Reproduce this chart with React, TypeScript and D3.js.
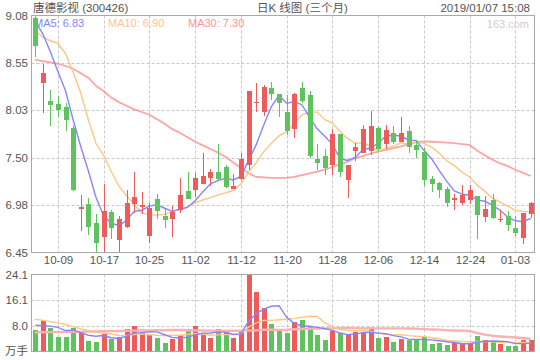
import React from "react";
import * as d3 from "d3";

const dates = ["09-27","09-28","10-08","10-09","10-10","10-11","10-12","10-15","10-16","10-17","10-18","10-19","10-22","10-23","10-24","10-25","10-26","10-29","10-30","10-31","11-01","11-02","11-05","11-06","11-07","11-08","11-09","11-12","11-13","11-14","11-15","11-16","11-19","11-20","11-21","11-22","11-23","11-26","11-27","11-28","11-29","11-30","12-03","12-04","12-05","12-06","12-07","12-10","12-11","12-12","12-13","12-14","12-17","12-18","12-19","12-20","12-21","12-24","12-25","12-26","12-27","12-28","01-02","01-03","01-04","01-07"];

const openP = [9.05,8.33,8.13,8.10,8.06,7.83,6.93,6.99,6.78,6.62,6.905,6.59,6.73,6.99,6.96,6.64,7.05,6.86,6.82,6.92,7.13,7.145,7.215,7.28,7.345,7.40,7.16,7.27,7.425,8.105,8.01,8.275,8.21,8.01,7.825,8.275,8.20,7.49,7.52,7.425,7.765,7.26,7.58,7.56,7.575,7.83,7.65,7.78,7.68,7.80,7.645,7.57,7.27,7.22,7.16,7.03,7.00,7.03,7.08,6.845,7.035,6.81,6.86,6.72,6.615,6.88];
const closeP = [8.745,8.44,8.09,8.03,7.92,7.14,6.96,6.73,6.56,6.91,6.72,6.82,7.00,7.07,6.975,6.95,6.91,6.81,6.90,7.09,7.05,7.28,7.30,7.345,7.27,7.18,7.19,7.49,8.24,8.125,8.29,8.21,8.105,7.80,8.21,8.13,7.525,7.45,7.39,7.765,7.34,7.42,7.62,7.82,7.855,7.60,7.81,7.675,7.78,7.62,7.59,7.26,7.21,7.14,7.00,7.06,7.09,7.145,6.87,6.935,6.83,6.825,6.76,6.67,6.89,7.00];
const highP = [9.08,8.54,8.25,8.19,8.11,7.85,7.09,7.06,6.88,7.21,6.92,6.86,7.14,7.345,7.12,7.00,7.10,6.935,6.97,7.28,7.345,7.33,7.56,7.375,7.655,7.425,7.32,7.555,8.24,8.33,8.305,8.345,8.21,8.20,8.22,8.345,8.24,7.655,7.60,7.82,7.77,7.42,7.67,7.87,8.025,7.86,7.87,7.86,7.955,7.85,7.70,7.615,7.305,7.23,7.18,7.10,7.20,7.20,7.08,7.08,7.10,6.92,6.915,6.86,6.89,7.015];
const lowP = [8.62,8.00,7.86,7.95,7.80,7.13,6.69,6.65,6.45,6.45,6.60,6.45,6.72,6.89,6.88,6.56,6.82,6.72,6.62,6.89,7.04,7.07,7.21,7.19,7.26,7.17,7.16,7.26,7.37,8.01,7.97,8.14,7.95,7.75,7.72,8.105,7.50,7.37,7.315,7.31,7.29,7.06,7.465,7.55,7.535,7.58,7.60,7.65,7.675,7.55,7.50,7.19,7.12,7.06,6.96,6.92,6.98,6.99,6.60,6.79,6.82,6.79,6.69,6.635,6.545,6.835];

const ma5 = [9.02,8.88,8.68,8.46,8.245,7.924,7.628,7.356,7.062,6.86,6.776,6.752,6.806,6.908,6.921,6.967,6.981,6.943,6.909,6.932,6.952,7.026,7.124,7.213,7.249,7.275,7.257,7.295,7.474,7.645,7.867,8.071,8.194,8.106,8.123,8.091,7.954,7.823,7.741,7.652,7.494,7.473,7.507,7.593,7.611,7.663,7.741,7.752,7.744,7.697,7.695,7.585,7.492,7.364,7.24,7.134,7.10,7.087,7.033,7.02,6.974,6.921,6.844,6.804,6.795,6.829];
const ma10 = [8.92,8.84,8.80,8.77,8.66,8.45,8.22,7.92,7.66,7.53,7.35,7.19,7.081,6.985,6.891,6.872,6.867,6.875,6.909,6.927,6.960,7.004,7.034,7.061,7.091,7.114,7.142,7.210,7.344,7.447,7.571,7.664,7.745,7.79,7.884,7.979,8.013,8.009,7.924,7.888,7.793,7.714,7.665,7.667,7.632,7.579,7.607,7.630,7.669,7.654,7.679,7.663,7.622,7.554,7.469,7.415,7.343,7.290,7.199,7.13,7.054,7.011,6.966,6.919,6.908,6.902];
const ma30 = [8.59,8.575,8.56,8.545,8.52,8.49,8.44,8.39,8.30,8.24,8.17,8.12,8.08,8.04,8.01,7.98,7.93,7.88,7.82,7.78,7.73,7.68,7.64,7.60,7.56,7.51,7.45,7.39,7.33,7.29,7.285,7.28,7.28,7.28,7.29,7.31,7.33,7.35,7.37,7.40,7.43,7.46,7.50,7.52,7.55,7.57,7.59,7.61,7.63,7.655,7.675,7.685,7.68,7.675,7.67,7.665,7.655,7.645,7.58,7.53,7.48,7.44,7.41,7.37,7.335,7.30];

const volume = [6.66,9.5,7.35,4.45,4.45,7.3,5.55,3.3,2.85,5.45,3.8,4.45,7.0,7.95,6.0,5.15,4.15,2.5,3.8,5.1,6.25,7.9,5.1,4.1,7.0,5.9,4.1,5.95,24.1,18.75,13.6,8.6,6.8,5.65,9.15,9.8,7.85,5.1,3.5,6.35,5.65,5.4,5.95,5.7,7.25,4.1,4.45,2.85,3.8,3.55,3.6,4.45,2.2,2.5,1.9,2.5,2.5,2.2,4.8,3.5,2.85,2.2,1.6,1.6,3.5,3.5];
const volMa5 = [8.2,8.0,7.9,7.5,6.48,6.61,5.82,5.01,4.69,4.89,4.19,3.97,4.71,5.73,5.84,6.11,6.05,5.15,4.32,4.14,4.36,5.11,5.63,5.69,6.07,6.0,5.24,5.41,9.41,11.76,13.3,14.2,14.37,10.68,8.76,8.0,7.85,7.51,7.08,6.52,5.69,5.2,5.37,5.81,5.99,5.68,5.49,4.87,4.49,3.75,3.65,3.65,3.52,3.26,2.93,2.71,2.32,2.32,2.78,3.1,3.17,3.11,2.99,2.35,2.35,2.48];
const volMa10 = [10.1,9.7,9.3,8.9,8.4,7.7,7.0,6.5,6.0,5.69,5.40,4.90,4.86,5.21,5.37,5.15,5.01,4.93,5.03,4.99,5.24,5.58,5.39,5.01,5.11,5.18,5.18,5.52,7.55,8.92,9.65,9.72,9.89,10.05,10.26,10.65,11.03,10.94,8.88,7.64,6.85,6.53,6.44,6.45,6.26,5.69,5.35,5.12,5.15,4.87,4.67,4.57,4.20,3.88,3.34,3.18,2.99,2.92,3.02,3.02,2.94,2.72,2.66,2.57,2.73,2.83];
const volMa30 = [5.9,5.95,6.0,6.0,6.05,6.1,6.1,6.15,6.2,6.25,6.3,6.35,6.4,6.45,6.5,6.55,6.6,6.6,6.65,6.65,6.6,6.55,6.5,6.45,6.4,6.4,6.4,6.4,6.45,6.53,6.76,6.73,6.71,6.75,6.91,6.99,7.07,7.13,7.15,7.18,7.24,7.28,7.24,7.17,7.21,7.17,7.18,7.19,7.19,7.14,7.05,6.94,6.84,6.79,6.62,6.51,6.45,6.33,5.68,5.18,4.82,4.60,4.43,4.30,4.11,3.90];

const xTickLabels = ["10-09","10-17","10-25","11-02","11-12","11-20","11-28","12-06","12-14","12-24","01-03"];
const priceTicks = [9.08, 8.554, 8.028, 7.502, 6.976, 6.45];
const priceTickLabels = ["9.08","8.55","8.03","7.50","6.98","6.45"];
const volTicks = [24.1, 16.07, 8.03];
const volTickLabels = ["24.1","16.1","8.0"];

const RED = "#ef5b5b";
const GREEN = "#5ec25e";
const C5 = "#8585ff";
const C10 = "#ffc582";
const C30 = "#ff9494";
const TXT = "#555";
const FONT = "'Liberation Sans', Arial, 'Noto Sans CJK SC', sans-serif";

export default function App() {
  const L = 31.5, R = 534.5, PT = 15.5, PB = 252.5, VT = 274.5, VB = 351.5;
  const x = d3.scaleBand<string>().domain(dates).range([31.19, 534.44]).paddingInner(0.34).paddingOuter(0.17);
  const xc = (i: number) => (x(dates[i]) as number) + x.bandwidth() / 2;
  const y = d3.scaleLinear().domain([6.45, 9.08]).range([252.7, 15.5]);
  const yv = d3.scaleLinear().domain([0, 24.1]).range([351, 275]);

  const priceLine = (arr: number[]) =>
    d3.line<number>().x((_, i) => xc(i)).y((d) => y(d)).curve(d3.curveLinear)(arr) || "";
  const volLine = (arr: number[]) =>
    d3.line<number>().x((_, i) => xc(i)).y((d) => yv(d))(arr) || "";

  const px = (i: number) => Math.round(xc(i));

  return (
    <svg width={540} height={360} style={{ position: "absolute", left: 0, top: 0, background: "#fff" }} fontFamily={FONT}>
      <rect x={0} y={0} width={540} height={360} fill="#fff" />
      <defs>
        <clipPath id="pclip"><rect x={L} y={PT} width={R - L} height={PB - PT} /></clipPath>
        <clipPath id="vclip"><rect x={L} y={VT} width={R - L} height={VB - VT} /></clipPath>
      </defs>
      {/* header */}
      <text x={33} y={12} fontSize={11.5} fill={TXT}>唐德影视 (300426)</text>
      <text x={257} y={12} fontSize={11.5} fill={TXT}>日K 线图 (三个月)</text>
      <text x={530} y={12} fontSize={11.5} fill={TXT} textAnchor="end">2019/01/07 15:08</text>

      {/* grids */}
      <g stroke="#c8c8c8" strokeDasharray="3,2" strokeWidth={1}>
        {priceTicks.slice(1, -1).map((t, k) => (
          <line key={"hg" + k} x1={L} x2={R} y1={Math.round(y(t)) + 0.5} y2={Math.round(y(t)) + 0.5} />
        ))}
        {volTicks.slice(1).map((t, k) => (
          <line key={"vg" + k} x1={L} x2={R} y1={Math.round(yv(t)) + 0.5} y2={Math.round(yv(t)) + 0.5} />
        ))}
        {xTickLabels.map((d) => {
          const i = dates.indexOf(d);
          const xx = px(i) + 0.5;
          return (
            <g key={"xg" + d}>
              <line x1={xx} x2={xx} y1={PT} y2={PB} />
              <line x1={xx} x2={xx} y1={VT} y2={VB} />
            </g>
          );
        })}
      </g>

      {/* watermark & legend */}
      <text x={529} y={28} fontSize={11} fill="#cfcfcf" textAnchor="end">163.com</text>
      <text x={34} y={27} fontSize={11} fill={C5}>MA5: 6.83</text>
      <text x={108} y={27} fontSize={11} fill={C10}>MA10: 6.90</text>
      <text x={188} y={27} fontSize={11} fill={C30}>MA30: 7.30</text>

      {/* price MA lines */}
      <g clipPath="url(#pclip)" fill="none">
        <path d={priceLine(ma30)} stroke={C30} strokeWidth={1.8} strokeOpacity={0.85} />
        <path d={priceLine(ma10)} stroke={C10} strokeWidth={1.4} />
        <path d={priceLine(ma5)} stroke={C5} strokeWidth={1.4} />
      </g>

      {/* candles */}
      <g shapeRendering="crispEdges">
        {dates.map((d, i) => {
          const up = closeP[i] >= openP[i];
          const col = up ? RED : GREEN;
          const cx = px(i);
          const top = y(Math.max(openP[i], closeP[i]));
          const bot = y(Math.min(openP[i], closeP[i]));
          return (
            <g key={"c" + d}>
              <rect x={cx} y={y(highP[i])} width={1} height={Math.max(1, y(lowP[i]) - y(highP[i]))} fill={col} />
              <rect x={cx - 2} y={top} width={5} height={Math.max(1, bot - top)} fill={col} />
            </g>
          );
        })}
      </g>

      {/* volume bars */}
      <g shapeRendering="crispEdges">
        {dates.map((d, i) => {
          const up = closeP[i] >= openP[i];
          return (
            <rect key={"v" + d} x={px(i) - 2} y={yv(volume[i])} width={5} height={351 - yv(volume[i])} fill={up ? RED : GREEN} />
          );
        })}
      </g>
      <g clipPath="url(#vclip)" fill="none">
        <path d={volLine(volMa30)} stroke="#ffb0b0" strokeWidth={2.4} />
        <path d={volLine(volMa10)} stroke={C10} strokeWidth={1.4} />
        <path d={volLine(volMa5)} stroke={C5} strokeWidth={1.4} />
      </g>

      {/* frames */}
      <g fill="none" stroke="#a8a8a8" strokeWidth={1}>
        <rect x={L} y={PT} width={R - L} height={PB - PT} />
        <rect x={L} y={VT} width={R - L} height={VB - VT} />
      </g>

      {/* y labels */}
      <g fontSize={11.5} fill={TXT} textAnchor="end">
        {priceTicks.map((t, k) => (
          <text key={"pl" + k} x={28} y={y(t) + 4}>{priceTickLabels[k]}</text>
        ))}
        {volTicks.map((t, k) => (
          <text key={"vl" + k} x={28} y={yv(t) + 4}>{volTickLabels[k]}</text>
        ))}
        <text x={28} y={355}>万手</text>
      </g>

      {/* x labels */}
      <g fontSize={11.5} fill={TXT} textAnchor="middle">
        {xTickLabels.map((d) => (
          <text key={"xl" + d} x={px(dates.indexOf(d)) + 0.5} y={264}>{d}</text>
        ))}
      </g>
    </svg>
  );
}
